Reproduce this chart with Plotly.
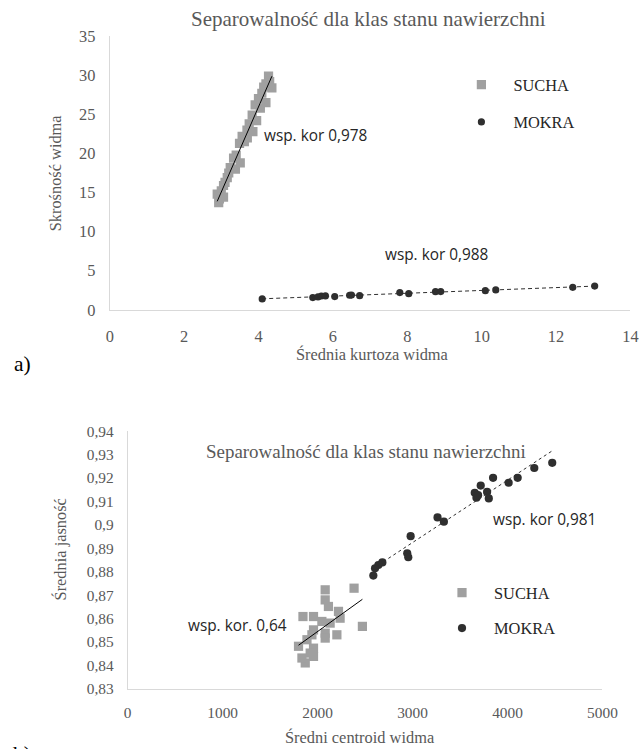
import numpy as np
import plotly.graph_objects as go

# ---------------- data: chart a) ----------------
a_sucha_x = [4.27, 4.14, 4.36, 4.00, 4.09, 3.91, 3.83, 3.69, 3.56, 3.49, 3.33, 3.51, 3.24, 3.16,
             3.06, 2.89, 3.06, 2.93, 4.20, 4.05, 3.95, 3.75, 3.62, 3.40, 3.38, 3.20, 3.10, 3.00,
             2.95, 4.30, 4.20, 3.85, 3.70]
a_sucha_y = [29.9, 28.5, 28.4, 27.0, 27.7, 26.2, 24.9, 23.0, 22.2, 21.3, 19.4, 18.8, 18.2, 16.9,
             15.9, 14.8, 14.4, 13.7, 26.5, 25.8, 24.2, 23.8, 21.5, 19.8, 18.0, 17.5, 16.3, 15.2,
             14.2, 29.2, 28.9, 22.8, 22.0]
a_mokra_x = [4.10, 5.46, 5.60, 5.69, 5.80, 6.05, 6.45, 6.50, 6.72, 7.80, 8.04, 8.76, 8.90,
             10.10, 10.38, 12.45, 13.04]
a_mokra_y = [1.39, 1.56, 1.65, 1.77, 1.78, 1.69, 1.86, 1.88, 1.81, 2.20, 2.07, 2.32, 2.33,
             2.45, 2.54, 2.88, 3.04]
a_xticks = [0, 2, 4, 6, 8, 10, 12, 14]
a_yticks = [0, 5, 10, 15, 20, 25, 30, 35]

# ---------------- data: chart b) ----------------
b_sucha_x = [2080, 2384, 2080, 2114, 2220, 1846, 1957, 2237, 2045, 2132, 2472, 1957, 2080,
             2203, 1940, 1888, 2080, 1799, 1957, 1922, 1957, 1870, 1835]
b_sucha_y = [0.8723, 0.8730, 0.8680, 0.8652, 0.8631, 0.8609, 0.8609, 0.8602, 0.8588, 0.8581,
             0.8567, 0.8552, 0.8538, 0.8531, 0.8531, 0.8510, 0.8517, 0.8482, 0.8474, 0.8453,
             0.8439, 0.8411, 0.8432]
b_mokra_x = [4471, 4282, 4107, 4012, 3848, 3718, 3655, 3673, 3785, 3803, 3690, 3263, 3330,
             2980, 2944, 2955, 2682, 2640, 2605, 2587]
b_mokra_y = [0.9265, 0.9243, 0.9201, 0.9180, 0.9201, 0.9168, 0.9137, 0.9116, 0.9141, 0.9113,
             0.9127, 0.9032, 0.9014, 0.8952, 0.8879, 0.8862, 0.8840, 0.8829, 0.8815, 0.8784]
b_xticks = [0, 1000, 2000, 3000, 4000, 5000]
b_yticks = [0.83, 0.84, 0.85, 0.86, 0.87, 0.88, 0.89, 0.90, 0.91, 0.92, 0.93, 0.94]
b_yticktext = ["0,83", "0,84", "0,85", "0,86", "0,87", "0,88", "0,89", "0,9", "0,91",
               "0,92", "0,93", "0,94"]

title_text = "Separowalność dla klas stanu nawierzchni"
labels_sucha = "SUCHA"
labels_mokra = "MOKRA"

# layout geometry is written in target-picture pixels and mapped to page pixels
SX, AX = 0.972, 3.0   # picture_x = AX + SX * page_x
SY, AY = 0.980, 7.7   # picture_y = AY + SY * page_y
SF = 0.976            # text / marker size factor
W, H = 656, 765
SERIF = "Liberation Serif, Times New Roman, serif"
SANS = "Open Sans, Noto Sans, sans-serif"
GRAY_TXT = "#595959"
C_SUCHA = "#a0a0a0"
C_MOKRA = "#2f2f2f"


def fs(v):
    return v / SF


def px_x(p):
    return (p - AX) / SX / W


def px_y(p):
    return 1 - (p - AY) / SY / H


def trend(x, y):
    x = np.asarray(x, float)
    y = np.asarray(y, float)
    k, b = np.polyfit(x, y, 1)
    xs = np.array([x.min(), x.max()])
    return xs, k * xs + b


fig = go.Figure()

# chart a)
fig.add_trace(go.Scatter(x=a_sucha_x, y=a_sucha_y, mode="markers", name=labels_sucha,
                         marker=dict(symbol="square", size=fs(9), color=C_SUCHA),
                         xaxis="x", yaxis="y", legend="legend", legendgroup="a1"))
fig.add_trace(go.Scatter(x=a_mokra_x, y=a_mokra_y, mode="markers", name=labels_mokra,
                         marker=dict(symbol="circle", size=fs(7), color=C_MOKRA),
                         xaxis="x", yaxis="y", legend="legend", legendgroup="a2"))
tx, ty = trend(a_sucha_x, a_sucha_y)
fig.add_trace(go.Scatter(x=tx, y=ty, mode="lines", line=dict(color="black", width=1),
                         showlegend=False, xaxis="x", yaxis="y", hoverinfo="skip"))
tx, ty = trend(a_mokra_x, a_mokra_y)
fig.add_trace(go.Scatter(x=tx, y=ty, mode="lines",
                         line=dict(color=C_MOKRA, width=1, dash="4px,3px"),
                         showlegend=False, xaxis="x", yaxis="y", hoverinfo="skip"))

# chart b)
fig.add_trace(go.Scatter(x=b_sucha_x, y=b_sucha_y, mode="markers", name=labels_sucha,
                         marker=dict(symbol="square", size=fs(9), color=C_SUCHA),
                         xaxis="x2", yaxis="y2", legend="legend2", legendgroup="b1"))
fig.add_trace(go.Scatter(x=b_mokra_x, y=b_mokra_y, mode="markers", name=labels_mokra,
                         marker=dict(symbol="circle", size=fs(8), color=C_MOKRA),
                         xaxis="x2", yaxis="y2", legend="legend2", legendgroup="b2"))
tx, ty = trend(b_sucha_x, b_sucha_y)
fig.add_trace(go.Scatter(x=tx, y=ty, mode="lines", line=dict(color="black", width=1),
                         showlegend=False, xaxis="x2", yaxis="y2", hoverinfo="skip"))
tx, ty = trend(b_mokra_x, b_mokra_y)
fig.add_trace(go.Scatter(x=tx, y=ty, mode="lines",
                         line=dict(color=C_MOKRA, width=1, dash="3px,3px"),
                         showlegend=False, xaxis="x2", yaxis="y2", hoverinfo="skip"))

axis_common = dict(showgrid=False, zeroline=False, showline=True, linecolor="#d9d9d9",
                   linewidth=1, ticks="", fixedrange=True)


def label(text, x, y, size, family=SERIF, color=GRAY_TXT, xanchor="center", angle=0):
    return dict(text=text, x=px_x(x), y=px_y(y), xref="paper", yref="paper",
                xanchor=xanchor, yanchor="middle", showarrow=False, textangle=angle,
                font=dict(family=family, size=fs(size), color=color))


ann = [
    label(title_text, 368, 18, 20.5),
    label(title_text, 366, 452, 18.5),
    label("Średnia kurtoza widma", 372, 355, 16),
    label("Skrośność widma", 55, 172, 16, angle=-90),
    label("Średni centroid widma", 360, 740, 16),
    label("Średnia jasność", 60, 551, 16, angle=-90),
    label("wsp. kor 0,978", 262, 135, 15, family=SANS, color="#262626", xanchor="left"),
    label("wsp. kor 0,988", 383, 254, 15, family=SANS, color="#262626", xanchor="left"),
    label("wsp. kor 0,981", 491, 521, 15, family=SANS, color="#262626", xanchor="left"),
    label("wsp. kor. 0,64", 185, 627, 15, family=SANS, color="#262626", xanchor="left"),
    label("a)", 11, 364, 21, color="black", xanchor="left"),
    label("b)", 10, 756, 21, color="black", xanchor="left"),
]

legend_common = dict(font=dict(family=SERIF, size=fs(16), color="#262626"),
                     bgcolor="rgba(0,0,0,0)", borderwidth=0, traceorder="grouped",
                     itemwidth=54, xanchor="left", yanchor="top", xref="paper", yref="paper")

fig.update_layout(
    width=W, height=H, margin=dict(l=0, r=0, t=0, b=0),
    paper_bgcolor="white", plot_bgcolor="white", showlegend=True,
    xaxis=dict(domain=[px_x(109), px_x(631)], range=[0, 14], tickvals=a_xticks,
               anchor="y", ticklabelstandoff=12,
               tickfont=dict(family=SERIF, size=fs(16), color=GRAY_TXT), **axis_common),
    yaxis=dict(domain=[px_y(310), px_y(35)], range=[0, 35], tickvals=a_yticks,
               anchor="x", ticklabelstandoff=10,
               tickfont=dict(family=SERIF, size=fs(16), color=GRAY_TXT), **axis_common),
    xaxis2=dict(domain=[px_x(127), px_x(603)], range=[0, 5000], tickvals=b_xticks,
                anchor="y2", ticklabelstandoff=10,
                tickfont=dict(family=SERIF, size=fs(15), color=GRAY_TXT), **axis_common),
    yaxis2=dict(domain=[px_y(691), px_y(432)], range=[0.83, 0.94], tickvals=b_yticks,
                ticktext=b_yticktext, anchor="x2", ticklabelstandoff=10,
                tickfont=dict(family=SERIF, size=fs(15), color=GRAY_TXT), **axis_common),
    legend=dict(x=(459.4 / W), y=1 - 59.9 / H, tracegroupgap=13, **legend_common),
    legend2=dict(x=(439.4 / W), y=1 - 581.0 / H, tracegroupgap=11, **legend_common),
    annotations=ann,
)

fig.write_html(
    "out.html",
    config={"displayModeBar": False},
    post_script="document.body.style.margin='0';document.body.style.overflow='hidden';",
)
